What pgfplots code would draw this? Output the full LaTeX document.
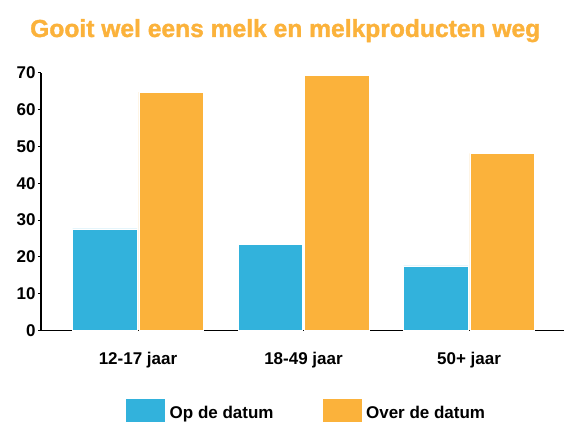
\documentclass[border=0pt]{standalone}
\usepackage{pgfplots}
\pgfplotsset{compat=1.18}
\usepackage{fontspec}
\setmainfont{Liberation Sans}
\newfontfamily\titlefont{Liberation Sans}[FakeBold=1.5]
\definecolor{cblue}{RGB}{50,178,220}
\definecolor{corange}{RGB}{251,178,59}
\begin{document}
\begin{tikzpicture}
\useasboundingbox (0pt,0pt) rectangle (564pt,421pt);
\node[anchor=base west, inner sep=0pt, text=corange] at (30pt,384pt)
  {\resizebox{510pt}{!}{\titlefont\bfseries Gooit wel eens melk en melkproducten weg}};
\begin{axis}[
  at={(41pt,90.3pt)}, anchor=south west,
  scale only axis, width=523pt, height=258pt,
  xmin=-0.586, xmax=2.574, ymin=0, ymax=70,
  axis x line=bottom, axis y line=left,
  axis line style={-, black, line width=1.2pt},
  ytick={0,10,...,70},
  xtick={0,1,2}, xticklabels={12-17 jaar,18-49 jaar,50+ jaar},
  major tick length=3pt,
  xtick style={draw=none},
  ytick style={black, line width=1pt},
  tick align=outside,
  /pgf/number format/assume math mode=true,
  ticklabel style={font=\bfseries\fontsize{17}{17}\selectfont},
  yticklabel style={xshift=1pt},
  xticklabel style={yshift=-15pt},
  clip=false,
  legend style={draw=none, fill=none, at={(0.1625,-0.319)}, anchor=west,
    legend columns=2, inner sep=0pt, font=\bfseries\fontsize{17}{17}\selectfont,
    /tikz/every even column/.append style={column sep=47pt},
    /tikz/every odd column/.append style={column sep=3pt}},
  legend cell align=left,
]
\addplot[ybar, bar width=0.39, bar shift=-0.2, fill=cblue, draw=white, line width=0.5pt,
  area legend, legend image code/.code={\fill[cblue] (0pt,-14pt) rectangle (38pt,14pt);}]
  coordinates {(0,27.6) (1,23.4) (2,17.6)};
\addlegendentry{Op de datum}
\addplot[ybar, bar width=0.39, bar shift=0.2, fill=corange, draw=white, line width=0.5pt,
  area legend, legend image code/.code={\fill[corange] (0pt,-14pt) rectangle (38pt,14pt);}]
  coordinates {(0,64.7) (1,69.2) (2,48.1)};
\addlegendentry{Over de datum}
\end{axis}
\end{tikzpicture}
\end{document}
